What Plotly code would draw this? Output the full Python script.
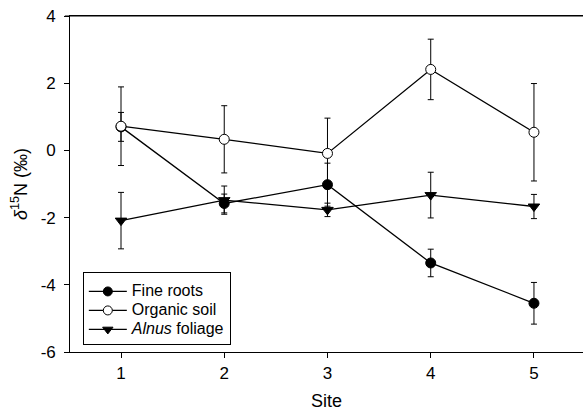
import plotly.graph_objects as go

sites = [1, 2, 3, 4, 5]
fine_roots = [0.70, -1.58, -1.02, -3.35, -4.55]
fine_roots_se = [0.43, 0.28, 0.64, 0.41, 0.62]
organic_soil = [0.72, 0.33, -0.09, 2.41, 0.54]
organic_soil_se = [1.17, 1.00, 1.05, 0.90, 1.45]
alnus = [-2.09, -1.48, -1.77, -1.33, -1.67]
alnus_se = [0.84, 0.42, 0.20, 0.68, 0.36]

series_names = ["Fine roots", "Organic soil", "<i>Alnus</i> foliage"]
y_ticks = [-6, -4, -2, 0, 2, 4]
y_ticktext = ["-6 ", "-4 ", "-2 ", "0 ", "2 ", "4 "]
x_ticks = [1, 2, 3, 4, 5]

FONT = "Liberation Sans, Arial, sans-serif"

styles = [
    dict(symbol="circle", color="black"),
    dict(symbol="circle", color="white"),
    dict(symbol="triangle-down", color="black"),
]
values = [fine_roots, organic_soil, alnus]
errors = [fine_roots_se, organic_soil_se, alnus_se]

fig = go.Figure()
for name, st, vals, se in zip(series_names, styles, values, errors):
    marker = dict(symbol=st["symbol"], size=10, color=st["color"],
                  line=dict(color="black", width=1))
    fig.add_trace(go.Scatter(
        x=sites, y=vals, mode="lines+markers", showlegend=False,
        line=dict(color="black", width=1.3), marker=marker,
        error_y=dict(type="data", array=se, visible=True, color="black",
                     thickness=1, width=3)))
# legend entries (no data, no error bars)
for name, st in zip(series_names, styles):
    fig.add_trace(go.Scatter(
        x=[None], y=[None], mode="lines+markers",
        name='<span style="font-size:16px">' + name + '</span>',
        line=dict(color="black", width=1.2),
        marker=dict(symbol=st["symbol"], size=9, color=st["color"],
                    line=dict(color="black", width=1))))

# top frame line of the plot area
fig.add_shape(type="line", xref="paper", yref="paper", x0=-0.01, x1=1, y0=1, y1=1,
              line=dict(color="black", width=1.2), layer="above")

fig.update_layout(
    width=583, height=412,
    margin=dict(l=70, r=0, t=16, b=60),
    paper_bgcolor="white", plot_bgcolor="white",
    font=dict(family=FONT, size=17, color="black"),
    showlegend=True,
    legend=dict(x=0.025, y=0.238, xanchor="left", yanchor="top",
                bordercolor="black", borderwidth=1, bgcolor="white",
                font=dict(family=FONT, size=11, color="black"),
                title=dict(text="&nbsp;", font=dict(size=3)),
                tracegroupgap=0, itemwidth=38),
    xaxis=dict(range=[0.506, 5.475], tickvals=x_ticks, ticks="outside", ticklen=5,
               tickcolor="black", showline=True, linecolor="black", linewidth=1.2,
               mirror=True, showgrid=False, zeroline=False, automargin=False,
               title=dict(text="Site", font=dict(size=18), standoff=12)),
    yaxis=dict(range=[-6, 4], tickvals=y_ticks, ticktext=y_ticktext, ticks="outside",
               ticklen=5, tickcolor="black", showline=True, linecolor="black",
               linewidth=1.2, showgrid=False, zeroline=False, automargin=False,
               title=dict(text="<i>δ</i><sup>15</sup>N (‰)", font=dict(size=18), standoff=8)),
)

fig.write_html("out.html", config={"displayModeBar": False},
               post_script="document.body.style.margin='0';")
